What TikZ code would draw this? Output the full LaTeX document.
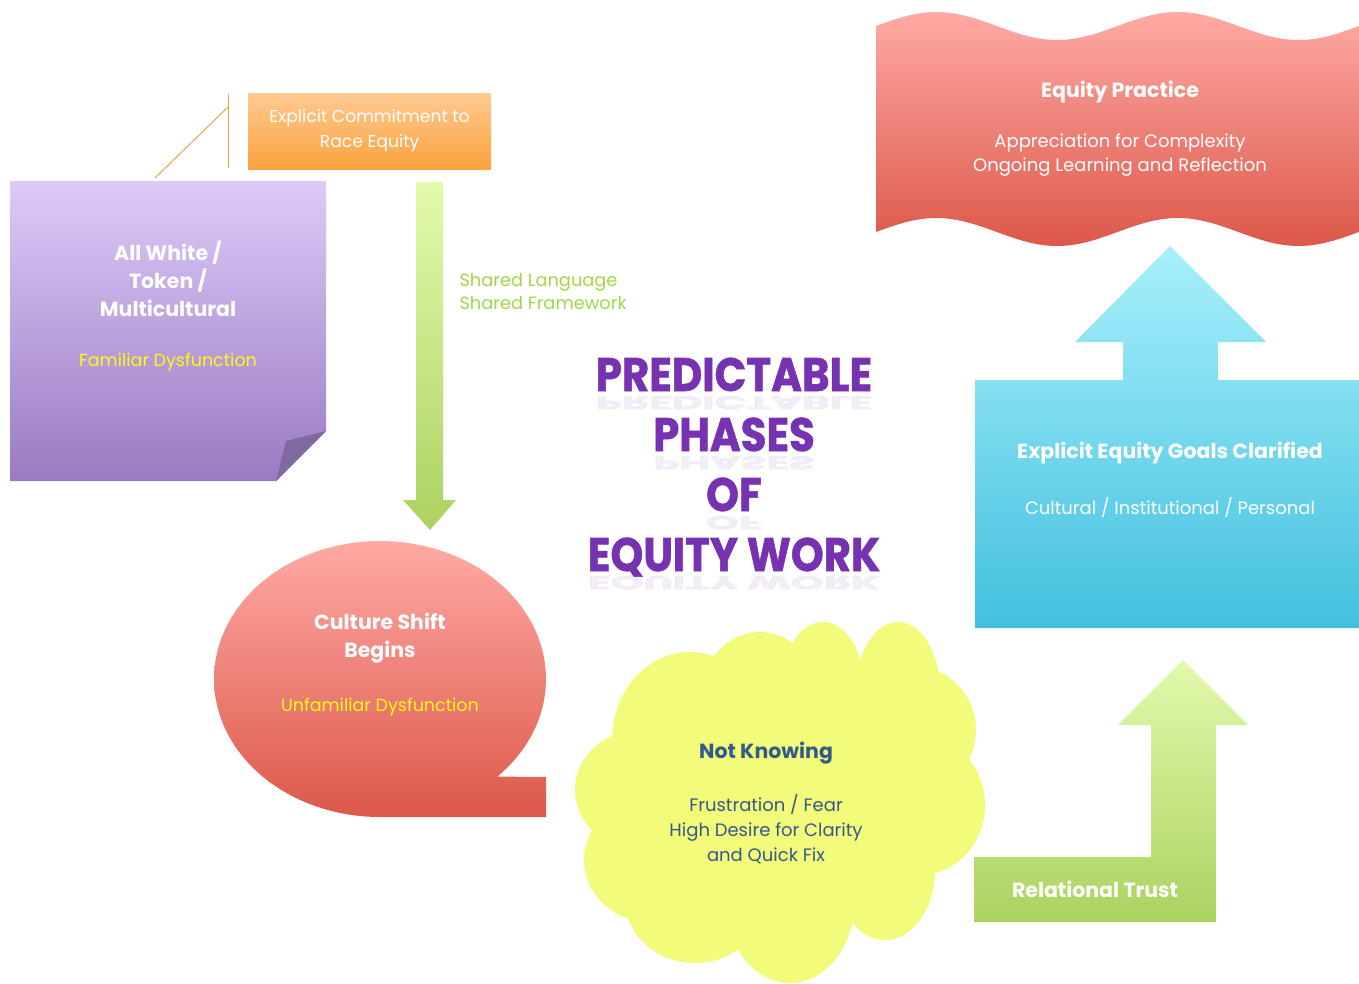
\documentclass[tikz,border=0pt]{standalone}
\usepackage{fontspec}
\setmainfont{Poppins}
\newfontfamily\titlefont[FakeStretch=0.89, FakeBold=1.2]{Poppins}

\definecolor{orangetop}{RGB}{255,202,145}
\definecolor{orangebot}{RGB}{251,162,62}
\definecolor{lilactop}{RGB}{221,202,248}
\definecolor{lilacbot}{RGB}{154,122,194}
\definecolor{lilacfold}{RGB}{128,104,160}
\definecolor{limetop}{RGB}{226,250,172}
\definecolor{limebot}{RGB}{172,210,96}
\definecolor{salmontop}{RGB}{255,170,164}
\definecolor{salmonbot}{RGB}{220,88,74}
\definecolor{skytop}{RGB}{168,240,252}
\definecolor{skybot}{RGB}{66,192,222}
\definecolor{lemon}{RGB}{243,251,122}
\definecolor{calloutline}{RGB}{248,160,70}
\definecolor{shoutyellow}{RGB}{255,250,20}
\definecolor{leafgreen}{RGB}{162,214,72}
\definecolor{inkblue}{RGB}{52,90,140}
\definecolor{titlepurple}{RGB}{118,50,176}

\tikzset{
    % Gradient fills - light at the top, darker below
    fill orange/.style={top color=orangetop, bottom color=orangebot},
    fill lilac/.style={top color=lilactop, bottom color=lilacbot},
    fill lime/.style={top color=limetop, bottom color=limebot},
    fill salmon/.style={top color=salmontop, bottom color=salmonbot},
    fill sky/.style={top color=skytop, bottom color=skybot},
    % Label styles
    head label/.style={font=\bfseries\fontsize{20.5}{28}\selectfont, text=white, align=center},
    body label/.style={font=\fontsize{18}{25}\selectfont, text=white, align=center},
    note yellow/.style={font=\fontsize{17.5}{25}\selectfont, text=shoutyellow, align=center},
    note green/.style={font=\fontsize{17.8}{23}\selectfont, text=leafgreen, align=left},
    % Title words and their reflection
    title word/.style={font=\titlefont\bfseries\fontsize{47}{60}\selectfont, text=titlepurple, inner sep=0pt},
    title mirror/.style={title word, text opacity=0.09},
    % Callout lines
    callout/.style={calloutline, line width=1pt},
}

\begin{document}
\begin{tikzpicture}[x=1pt, y=-1pt]
    \useasboundingbox (0,0) rectangle (1359,983);

    % Commitment box with its callout
    \node[fill orange, minimum width=243pt, minimum height=76pt, inner sep=0pt,
          body label, font=\fontsize{17.2}{25}\selectfont] (commit) at (369.5,131)
          {Explicit Commitment to\\Race Equity};
    \coordinate (callout tip) at (155,178);
    \coordinate (bar top) at (228,94);
    \coordinate (bar mid) at (228,107);
    \coordinate (bar bottom) at (228,168);
    \draw[callout] (callout tip) -- (bar mid);
    \draw[callout] (bar top) -- (bar bottom);

    % Sticky note, folded corner
    \shade[fill lilac] (10,181) -- (326,181) -- (326,431) -- (276,481) -- (10,481) -- cycle;
    \fill[lilacfold] (276,481) -- (286,441) -- (326,431) -- cycle;
    \node[head label] (white) at (168,279) {All White /\\Token /\\Multicultural};
    \node[note yellow] (familiar) at (168,362) {Familiar Dysfunction};

    % Down arrow
    \shade[fill lime] (416,182) -- (443,182) -- (443,500) -- (456,500) -- (430,530)
        -- (403,500) -- (416,500) -- cycle;
    \node[note green, anchor=west] (shared) at (456,291) {Shared Language\\Shared Framework};

    % Title
    \foreach \word/\yy [count=\i] in {PREDICTABLE/391, PHASES/451, OF/511, EQUITY WORK/571} {
        \node[title word, anchor=base] (title\i) at (734,\yy) {\word};
        \node[title mirror, anchor=base] (mirror\i) at (734,\yy+5) {\scalebox{1}[-0.4]{\word}};
    }

    % Speech bubble
    \shade[fill salmon] plot[domain=45:-270, samples=140]
        ({380+166*cos(\x)}, {679+138*sin(\x)}) -- (546,817) -- (546,777) -- cycle;
    \node[head label] (culture) at (380,638) {Culture Shift\\Begins};
    \node[note yellow] (unfamiliar) at (380,707) {Unfamiliar Dysfunction};

    % Cloud
    \begin{scope}[lemon]
        \fill (640,790) ellipse [x radius=65pt, y radius=60pt];
        \fill (650,860) ellipse [x radius=66pt, y radius=62pt];
        \fill (695,900) ellipse [x radius=70pt, y radius=63pt];
        \fill (790,900) ellipse [x radius=65pt, y radius=83pt];
        \fill (885,870) ellipse [x radius=50pt, y radius=70pt];
        \fill (920,805) ellipse [x radius=65pt, y radius=70pt];
        \fill (910,730) ellipse [x radius=66pt, y radius=65pt];
        \fill (898,690) ellipse [x radius=42pt, y radius=68pt];
        \fill (823,682) ellipse [x radius=40pt, y radius=60pt];
        \fill (760,700) ellipse [x radius=60pt, y radius=68pt];
        \fill (690,740) ellipse [x radius=78pt, y radius=88pt];
        \fill (785,800) ellipse [x radius=160pt, y radius=125pt];
    \end{scope}
    \node[head label, text=inkblue] (knowing) at (766,753) {Not Knowing};
    \node[body label, text=inkblue] (fear) at (766,829)
        {Frustration / Fear\\High Desire for Clarity\\and Quick Fix};

    % Bent arrow
    \shade[fill lime] (974,857) -- (1151,857) -- (1151,725) -- (1118,725) -- (1183,660)
        -- (1248,725) -- (1216,725) -- (1216,922) -- (974,922) -- cycle;
    \node[head label] (trust) at (1095,889) {Relational Trust};

    % Box with up arrow
    \shade[fill sky] (975,380) -- (1123,380) -- (1123,342) -- (1075,342) -- (1170,246)
        -- (1266,342) -- (1218,342) -- (1218,380) -- (1359,380) -- (1359,628)
        -- (975,628) -- cycle;
    \node[head label] (goals) at (1170,453) {Explicit Equity Goals Clarified};
    \node[body label] (levels) at (1170,508) {Cultural / Institutional / Personal};

    % Wave banner
    \shade[fill salmon] plot[domain=0:483, samples=120] ({876+\x}, {26-14*sin(\x/483*720)})
        -- plot[domain=483:0, samples=120] ({876+\x}, {232-14*sin(\x/483*720)}) -- cycle;
    \node[head label] (practice) at (1120,92) {Equity Practice};
    \node[body label, font=\fontsize{18}{24}\selectfont] (complexity) at (1120,155)
        {Appreciation for Complexity\\Ongoing Learning and Reflection};
\end{tikzpicture}
\end{document}
